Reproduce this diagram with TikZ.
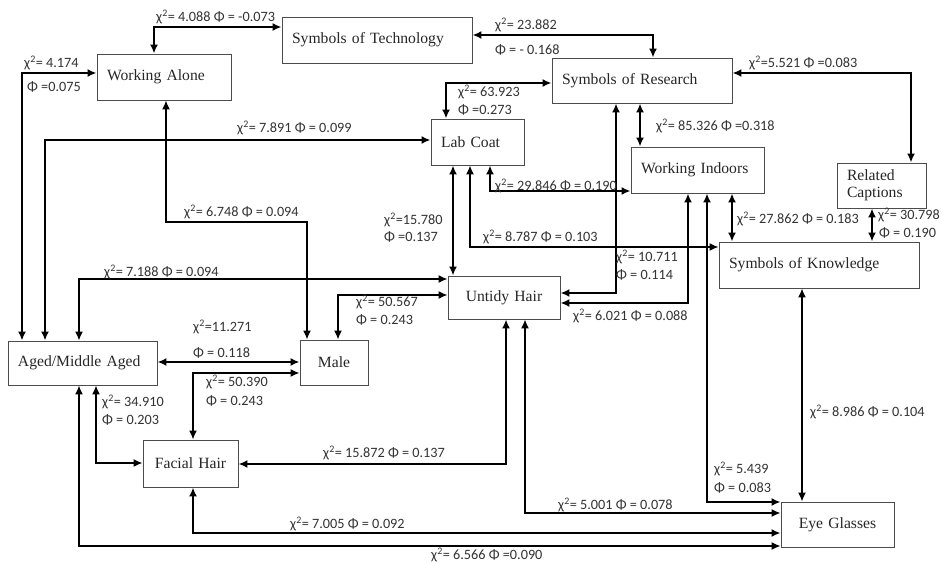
\documentclass[tikz,border=0pt]{standalone}
\usepackage{fontspec}
\setmainfont{Liberation Serif}
\newfontfamily\labfont{Carlito}
\usetikzlibrary{arrows.meta}
\newcommand\chisq{χ\textsuperscript{2}}
\begin{document}
\begin{tikzpicture}[x=1bp,y=-1bp,
  box/.style={draw=black!70, line width=0.9bp, inner xsep=10bp, inner ysep=0pt,
    font=\fontsize{15.7}{17}\selectfont, text=black!85},
  con/.style={line width=2.2bp, {Latex[length=9bp,width=8bp]}-{Latex[length=9bp,width=8bp]}},
  conthin/.style={con, line width=1.5bp},
  lab/.style={font=\labfont\fontsize{14.3}{15}\selectfont, text=black!80, inner sep=0pt, anchor=west}]
\fill[white] (0,0) rectangle (942,563);
\useasboundingbox (0,0) rectangle (942,563);
% nodes
\node[box, text width=114bp, minimum height=46bp, align=left] (wa) at (164,77) {Working Alone};
\node[box, text width=170bp, minimum height=46bp, align=left] (sot) at (377,40) {Symbols of Technology};
\node[box, text width=160bp, minimum height=45bp, align=left] (sor) at (642,80.5) {Symbols of Research};
\node[box, text width=73bp, minimum height=46bp, align=left] (lab) at (477.5,142) {Lab Coat};
\node[box, text width=113bp, minimum height=46bp, align=left] (wi) at (697.5,170) {Working Indoors};
\node[box, text width=69bp, minimum height=45bp, align=left] (rc) at (881.5,185.5) {Related\\Captions};
\node[box, text width=180bp, minimum height=46bp, align=left] (sok) at (819,265) {Symbols of Knowledge};
\node[box, text width=92bp, minimum height=43bp, align=center] (uh) at (504,297.5) {Untidy Hair};
\node[box, text width=129bp, minimum height=44bp, align=left] (aged) at (82.5,363) {Aged/Middle Aged};
\node[box, text width=48bp, minimum height=45bp, align=center] (male) at (334,362.5) {Male};
\node[box, text width=75bp, minimum height=47bp, align=center] (fh) at (190.5,463.5) {Facial Hair};
\node[box, text width=93bp, minimum height=45bp, align=center] (eg) at (837.5,524.5) {Eye Glasses};
% connectors
\draw[con] (wa.north -| 154,0) |- (sot.west |- 0,27);
\draw[con] (sot.east |- 0,35) -| (sor.north -| 653,0);
\draw[con] (aged.north -| 22,0) |- (wa.west |- 0,73);
\draw[con] (aged.north -| 45,0) |- (lab.west |- 0,140);
\draw[conthin] (wa.south -| 166,0) |- (307,222) -- (male.north -| 307,0);
\draw[conthin] (aged.north -| 79,0) |- (uh.west |- 0,279);
\draw[con] (aged.east |- 0,362) -- (male.west |- 0,362);
\draw[conthin] (male.north -| 338,0) |- (uh.west |- 0,295);
\draw[conthin] (fh.north -| 193,0) |- (male.west |- 0,373);
\draw[conthin] (aged.south -| 96,0) |- (fh.west |- 0,463);
\draw[con] (fh.east |- 0,464) -| (uh.south -| 506,0);
\draw[con] (fh.south -| 193,0) |- (eg.west |- 0,533);
\draw[conthin] (aged.south -| 79,0) |- (eg.west |- 0,546);
\draw[conthin] (uh.south -| 525,0) |- (eg.west |- 0,513);
\draw[con] (wi.south -| 707,0) |- (eg.west |- 0,502);
\draw[conthin] (sok.south -| 802,0) -- (eg.north -| 802,0);
\draw[con] (sor.east |- 0,73) -| (rc.north -| 911,0);
\draw[con] (rc.south -| 872,0) -- (sok.north -| 872,0);
\draw[con] (wi.south -| 732,0) -- (sok.north -| 732,0);
\draw[con] (sor.south -| 640,0) -- (wi.north -| 640,0);
\draw[con] (lab.north -| 446,0) |- (sor.west |- 0,83);
\draw[con] (lab.south -| 490,0) |- (wi.west |- 0,191);
\draw[conthin] (lab.south -| 470,0) |- (sok.west |- 0,247);
\draw[con] (lab.south -| 453,0) -- (uh.north -| 453,0);
\draw[con] (sor.south -| 616,0) |- (uh.east |- 0,293);
\draw[con] (wi.south -| 688,0) |- (uh.east |- 0,303);
% labels
\node[lab] (l1) at (156,17) {\chisq= 4.088 Φ = -0.073};
\node[lab] (l2a) at (495,25) {\chisq= 23.882};
\node[lab] (l2b) at (495,50) {Φ = - 0.168};
\node[lab] (l3a) at (24,63) {\chisq= 4.174};
\node[lab] (l3b) at (27,87) {Φ =0.075};
\node[lab] (l4) at (237,128) {\chisq= 7.891 Φ = 0.099};
\node[lab] (l5a) at (458,92) {\chisq= 63.923};
\node[lab] (l5b) at (458,110) {Φ =0.273};
\node[lab] (l6) at (749,63) {\chisq=5.521 Φ =0.083};
\node[lab] (l7) at (656,126) {\chisq= 85.326 Φ =0.318};
\node[lab] (l8) at (495,186) {\chisq= 29.846 Φ = 0.190};
\node[lab] (l9) at (184,212) {\chisq= 6.748 Φ = 0.094};
\node[lab] (l10a) at (384,220) {\chisq=15.780};
\node[lab] (l10b) at (384,237) {Φ =0.137};
\node[lab] (l11) at (483,237) {\chisq= 8.787 Φ = 0.103};
\node[lab] (l12) at (737,219) {\chisq= 27.862 Φ = 0.183};
\node[lab] (l13a) at (878,215) {\chisq= 30.798};
\node[lab] (l13b) at (879,233) {Φ = 0.190};
\node[lab] (l14a) at (616,257) {\chisq= 10.711};
\node[lab] (l14b) at (616,275) {Φ = 0.114};
\node[lab] (l15) at (104,272) {\chisq= 7.188 Φ = 0.094};
\node[lab] (l16a) at (356,302) {\chisq= 50.567};
\node[lab] (l16b) at (356,320) {Φ = 0.243};
\node[lab] (l17) at (573,316) {\chisq= 6.021 Φ = 0.088};
\node[lab] (l18a) at (193,327) {\chisq=11.271};
\node[lab] (l18b) at (193,353) {Φ = 0.118};
\node[lab] (l19a) at (206,382) {\chisq= 50.390};
\node[lab] (l19b) at (206,401) {Φ = 0.243};
\node[lab] (l20a) at (102,402) {\chisq= 34.910};
\node[lab] (l20b) at (102,420) {Φ = 0.203};
\node[lab] (l21) at (810,412) {\chisq= 8.986 Φ = 0.104};
\node[lab] (l22) at (323,453) {\chisq= 15.872 Φ = 0.137};
\node[lab] (l23a) at (714,469) {\chisq= 5.439};
\node[lab] (l23b) at (714,488) {Φ = 0.083};
\node[lab] (l24) at (558,505) {\chisq= 5.001 Φ = 0.078};
\node[lab] (l25) at (290,524) {\chisq= 7.005 Φ = 0.092};
\node[lab] (l26) at (431,555) {\chisq= 6.566 Φ =0.090};
\end{tikzpicture}
\end{document}
